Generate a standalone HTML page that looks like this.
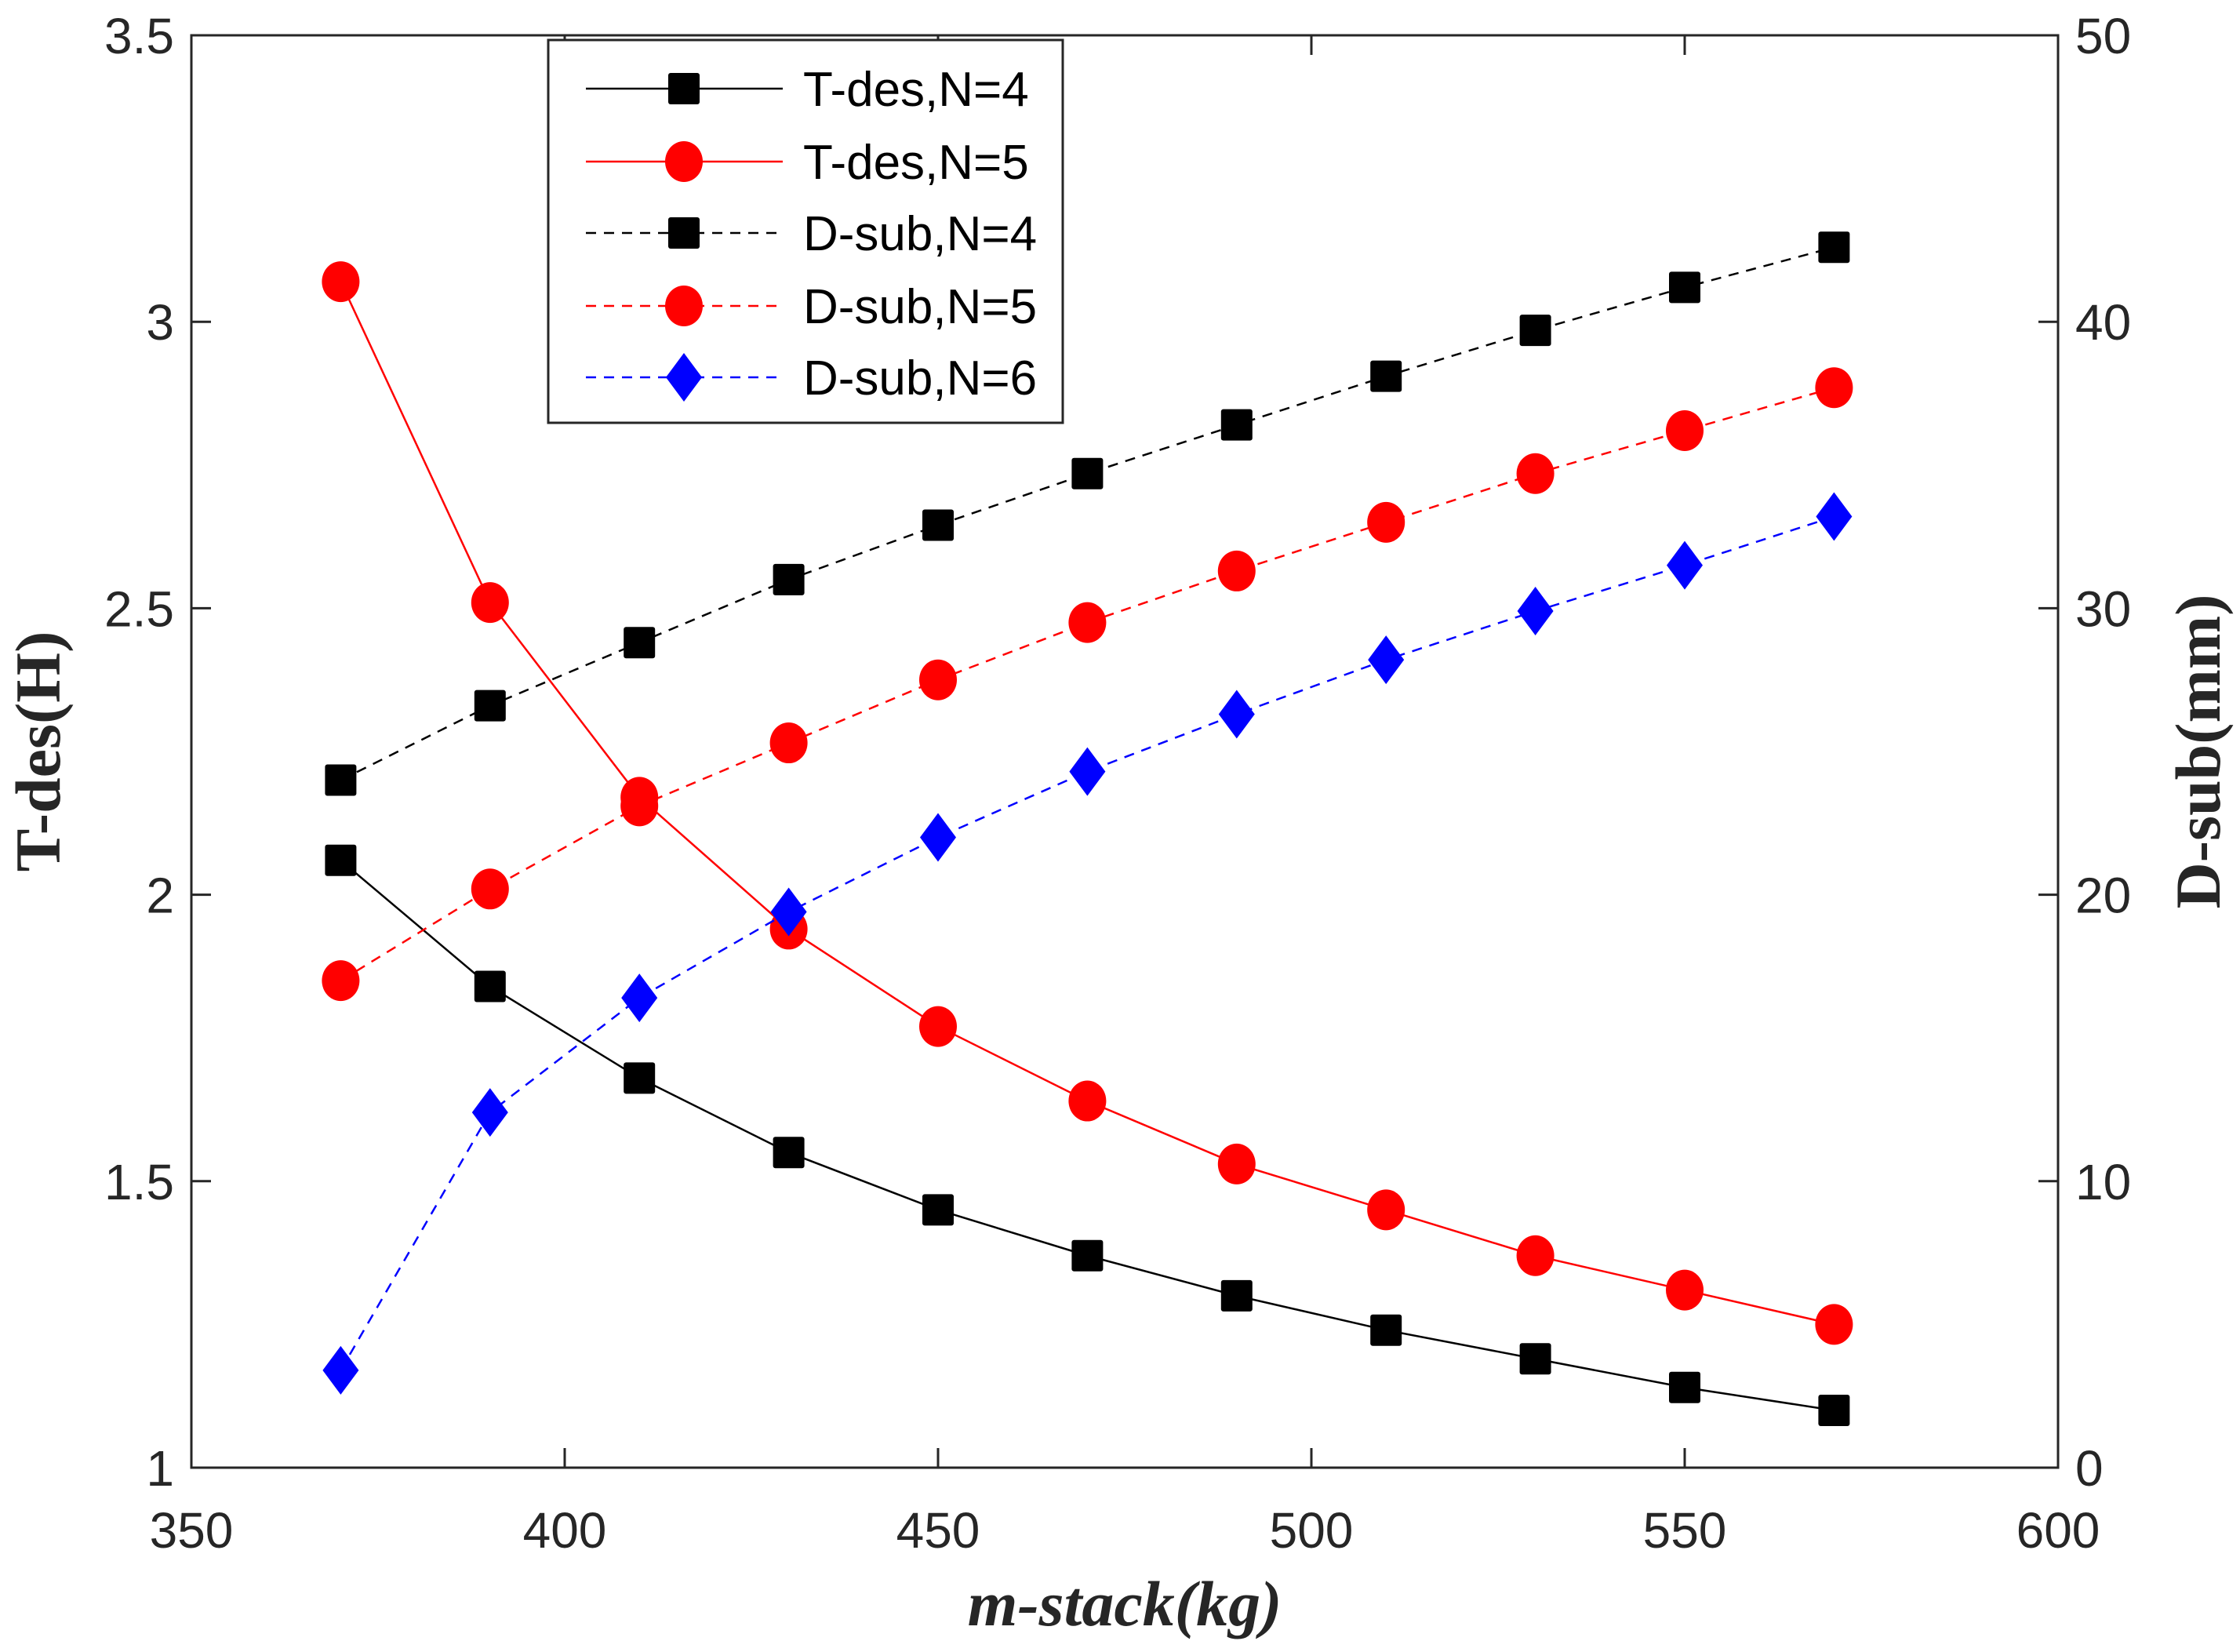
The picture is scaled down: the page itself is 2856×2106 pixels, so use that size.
<!DOCTYPE html>
<html><head><meta charset="utf-8"><style>
html,body{margin:0;padding:0;background:#fff;}
svg{display:block;}
</style></head><body>
<svg id="chart" width="2856" height="2106" viewBox="0 0 2856 2106" xmlns="http://www.w3.org/2000/svg"></svg>
<script>
const xValues = [370,390,410,430,450,470,490,510,530,550,570];
const tdesN4 = [2.06,1.84,1.68,1.55,1.45,1.37,1.30,1.24,1.19,1.14,1.10];
const tdesN5 = [3.07,2.51,2.17,1.94,1.77,1.64,1.53,1.45,1.37,1.31,1.25];
const dsubN4 = [24.0,26.6,28.8,31.0,32.9,34.7,36.4,38.1,39.7,41.2,42.6];
const dsubN5 = [17.0,20.2,23.1,25.3,27.5,29.5,31.3,33.0,34.7,36.2,37.7];
const dsubN6 = [3.4,12.4,16.4,19.4,22.0,24.3,26.3,28.2,29.9,31.5,33.2];
const xTicks = [350,400,450,500,550,600];
const yLeftTicks = [1,1.5,2,2.5,3,3.5];
const yLeftLabels = ["1","1.5","2","2.5","3","3.5"];
const yRightTicks = [0,10,20,30,40,50];
const legendLabels = ["T-des,N=4","T-des,N=5","D-sub,N=4","D-sub,N=5","D-sub,N=6"];

const L=244,R=2624,T=45,B=1871;
const sx=v=>L+(v-350)/(600-350)*(R-L);
const syL=v=>B-(v-1)/(3.5-1)*(B-T);
const syR=v=>B-(v-0)/(50-0)*(B-T);
const NS="http://www.w3.org/2000/svg";
const svg=document.getElementById('chart');
function el(tag,attrs,parent){const e=document.createElementNS(NS,tag);for(const k in attrs)e.setAttribute(k,attrs[k]);(parent||svg).appendChild(e);return e;}
const AX="#262626";
const tickFont='font-family:"Liberation Sans",sans-serif;font-size:64px;fill:#262626';

const box=el('rect',{x:L,y:T,width:R-L,height:B-T,fill:'none',stroke:AX,'stroke-width':3});



xTicks.forEach(v=>{
  const x=sx(v);
  el('line',{x1:x,y1:B,x2:x,y2:B-25,stroke:AX,'stroke-width':3});
  el('line',{x1:x,y1:T,x2:x,y2:T+25,stroke:AX,'stroke-width':3});
  const t=el('text',{x:x,y:B+102,'text-anchor':'middle',style:tickFont});
  t.textContent=v;
  
  
});
yLeftTicks.forEach((v,i)=>{
  const y=syL(v);
  el('line',{x1:L,y1:y,x2:L+25,y2:y,stroke:AX,'stroke-width':3});
  const t=el('text',{x:L-22,y:y+23,'text-anchor':'end',style:tickFont});
  t.textContent=yLeftLabels[i];
  
  
});
yRightTicks.forEach(v=>{
  const y=syR(v);
  el('line',{x1:R,y1:y,x2:R-25,y2:y,stroke:AX,'stroke-width':3});
  const t=el('text',{x:R+22,y:y+23,'text-anchor':'start',style:tickFont});
  t.textContent=v;
  
  
});

const titleFont='font-family:"Liberation Serif",serif;font-size:82px;font-weight:bold;fill:#262626';
let t=el('text',{x:(L+R)/2,y:2072,'text-anchor':'middle',style:titleFont+';font-style:italic'});
t.textContent='m-stack(kg)';


t=el('text',{x:0,y:0,'text-anchor':'middle',style:titleFont,transform:`translate(76,${(T+B)/2}) rotate(-90)`});
t.textContent='T-des(H)';


t=el('text',{x:0,y:0,'text-anchor':'middle',style:titleFont,transform:`translate(2830,${(T+B)/2}) rotate(-90)`});
t.textContent='D-sub(mm)';



function marker(type,x,y,color,parent){
  if(type==='square') return el('rect',{x:x-20,y:y-20,width:40,height:40,rx:3,fill:color},parent);
  if(type==='circle') return el('ellipse',{cx:x,cy:y,rx:24,ry:26,fill:color},parent);
  return el('polygon',{points:`${x},${y-31} ${x+23},${y} ${x},${y+31} ${x-23},${y}`,fill:color},parent);
}
const series=[
  {vals:tdesN4,sy:syL,color:'#000',dash:null,m:'square',name:'series-tdes-n4'},
  {vals:tdesN5,sy:syL,color:'#ff0000',dash:null,m:'circle',name:'series-tdes-n5'},
  {vals:dsubN4,sy:syR,color:'#000',dash:'13,10',m:'square',name:'series-dsub-n4'},
  {vals:dsubN5,sy:syR,color:'#ff0000',dash:'13,10',m:'circle',name:'series-dsub-n5'},
  {vals:dsubN6,sy:syR,color:'#0000ff',dash:'13,10',m:'diamond',name:'series-dsub-n6'}
];
series.forEach(s=>{
  const g=el('g',{});
  
  
  const pts=s.vals.map((v,i)=>sx(xValues[i])+','+s.sy(v)).join(' ');
  const a={points:pts,fill:'none',stroke:s.color,'stroke-width':2.5};
  if(s.dash)a['stroke-dasharray']=s.dash;
  el('polyline',a,g);
  s.vals.forEach((v,i)=>{
    const m=marker(s.m,sx(xValues[i]),s.sy(v),s.color,g);
    
    
  });
});

const lg=el('g',{});


el('rect',{x:699,y:51,width:656,height:488,fill:'#fff',stroke:AX,'stroke-width':3},lg);
const ly=[113,206,297,390,481];
series.forEach((s,i)=>{
  const e=el('g',{},lg);
  
  
  const a={x1:747,y1:ly[i],x2:998,y2:ly[i],stroke:s.color,'stroke-width':2.5};
  if(s.dash)a['stroke-dasharray']=s.dash;
  el('line',a,e);
  marker(s.m,872,ly[i],s.color,e);
  const tx=el('text',{x:1024,y:ly[i]+22,style:'font-family:"Liberation Sans",sans-serif;font-size:62px;fill:#000'},e);
  tx.textContent=legendLabels[i];
});
</script>
</body></html>
